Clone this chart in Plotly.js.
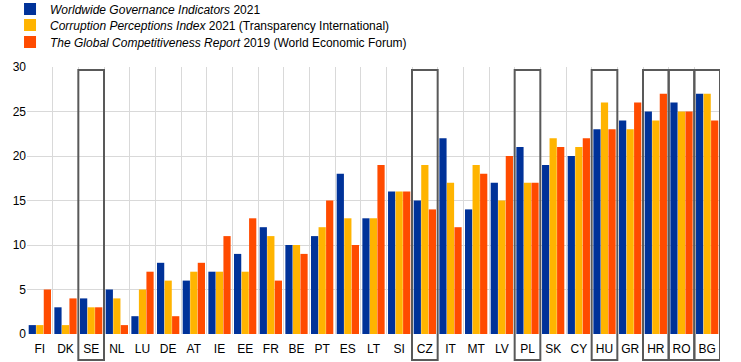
<!DOCTYPE html>
<html><head><meta charset="utf-8">
<script src="https://cdn.plot.ly/plotly-3.0.1.min.js"></script>
<style>body{margin:0;padding:0;background:#fff}#chart{width:741px;height:362px}</style>
</head><body><div id="chart"></div>
<script>
const countries = ["FI","DK","SE","NL","LU","DE","AT","IE","EE","FR","BE","PT","ES","LT","SI","CZ","IT","MT","LV","PL","SK","CY","HU","GR","HR","RO","BG"];
const wgi = [1,3,4,5,2,8,6,7,9,12,10,11,18,13,16,15,22,14,17,21,19,20,23,24,25,26,27];
const cpi = [1,1,3,4,5,6,7,7,7,11,10,12,13,13,16,19,17,19,15,17,22,21,26,23,24,25,27];
const gcr = [5,4,3,1,7,2,8,11,13,6,9,15,10,19,16,14,12,18,20,17,21,22,23,26,27,25,24];
const highlighted = ["SE","CZ","PL","HU","HR","RO","BG"];
const seriesNames = ["<i>Worldwide Governance Indicators</i> 2021","<i>Corruption Perceptions Index</i> 2021 (Transparency International)","<i>The Global Competitiveness Report</i> 2019 (World Economic Forum)"];
const colors = ["#003299","#FFB400","#FF4B00"];
const yTicks = [0,5,10,15,20,25,30];

const legendIds = ['legend','legend2','legend3'];
const legendY = [1.217,1.157,1.094];
const series = [wgi,cpi,gcr];
const traces = series.map((v,i)=>({type:'bar',x:countries,y:v,name:seriesNames[i],legend:legendIds[i],marker:{color:colors[i],line:{width:0}}}));

const shapes = highlighted.map(c=>{
  const i = countries.indexOf(c);
  return {type:'rect',xref:'x',yref:'paper',x0:i-0.5,x1:i+0.5,y0:-0.097,y1:0.989,line:{color:'#595959',width:2},fillcolor:'rgba(0,0,0,0)',layer:'above'};
});

const layout = {
  width:741,height:362,
  margin:{l:27,r:21,t:67,b:28,autoexpand:false},
  paper_bgcolor:'#fff',plot_bgcolor:'#fff',
  font:{family:'"Liberation Sans", Arial, sans-serif',size:12,color:'#000'},
  barmode:'group',bargap:0.12,bargroupgap:0.04,
  showlegend:true,
  xaxis:{type:'category',tickson:'boundaries',showgrid:true,gridcolor:'#d9d9d9',gridwidth:1,ticks:'',tickangle:0,ticklabelstandoff:6,showline:false,zeroline:false,tickfont:{size:12},automargin:false,range:[-0.5,26.5]},
  yaxis:{range:[0,30],tickvals:yTicks,showgrid:true,gridcolor:'#d9d9d9',gridwidth:1,zeroline:false,showline:false,ticks:'',tickfont:{size:12},automargin:false},
  shapes:shapes
};
legendIds.forEach((id,i)=>{
  layout[id] = {x:-0.0245,y:legendY[i],xanchor:'left',yanchor:'middle',font:{size:12},itemwidth:30,bgcolor:'rgba(0,0,0,0)'};
});
Plotly.newPlot('chart',traces,layout,{staticPlot:true,displayModeBar:false});
</script></body></html>
